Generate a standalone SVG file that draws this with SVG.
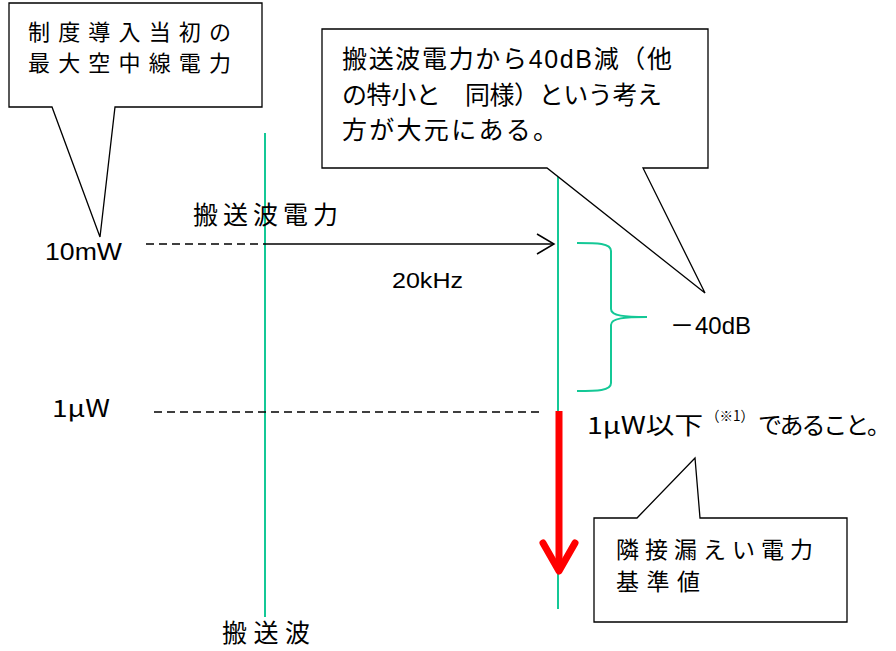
<svg xmlns="http://www.w3.org/2000/svg" width="896" height="651" viewBox="0 0 896 651">
<style>
text{font-family:"Liberation Sans","Noto Sans CJK JP",sans-serif;fill:#000}
.jp{font-family:"Noto Sans CJK JP",sans-serif;font-size:25px}
.la{font-size:23px}
.callout{fill:#fff;stroke:#000;stroke-width:1.3}
.green{fill:none;stroke:#14C896;stroke-width:2}
.dash{stroke:#000;stroke-width:1.5;stroke-dasharray:8 5;fill:none}
</style>
<rect width="896" height="651" fill="#fff"/>
<g id="axes">
<line class="green" x1="265" y1="133" x2="265" y2="617"/>
<line class="green" x1="558" y1="172" x2="558" y2="609"/>
<path class="green" d="M577,243 C597,243 611,243 611,251 V309 C611,316 625,317 647,317 C625,317 611,318 611,325 V383 C611,391 597,391 577,391"/>
</g>
<g id="connectors">
<line class="dash" x1="146" y1="244" x2="265" y2="244"/>
<line x1="265" y1="244" x2="554" y2="244" stroke="#000" stroke-width="1.5"/>
<path d="M537,234 L554,244 L537,254" fill="none" stroke="#000" stroke-width="1.5"/>
<line class="dash" x1="154" y1="412" x2="540" y2="412"/>
<line x1="559" y1="411" x2="559" y2="568" stroke="#FF0000" stroke-width="7"/>
<path d="M543,543 L559,571 L575,543" fill="none" stroke="#FF0000" stroke-width="7" stroke-linecap="round" stroke-linejoin="round"/>
</g>
<g id="callout1">
<path class="callout" d="M9,3 H262 V107 H115 L100,237 L52,107 H9 Z"/>
<text class="jp" x="28" y="40" style="font-size:22px" textLength="203" lengthAdjust="spacing">制度導入当初の</text>
<text class="jp" x="28" y="71" style="font-size:22px" textLength="203" lengthAdjust="spacing">最大空中線電力</text>
</g>
<g id="callout2">
<path class="callout" d="M322,29 H708 V168 H643 L705,293 L547,168 H322 Z"/>
<text class="jp" x="342" y="68" textLength="330" lengthAdjust="spacing">搬送波電力から<tspan font-family="Liberation Sans">40dB</tspan>減（他</text>
<text class="jp" x="342" y="104" textLength="320" lengthAdjust="spacing">の特小と　同様）という考え</text>
<text class="jp" x="342" y="139" textLength="216" lengthAdjust="spacing">方が大元にある。</text>
</g>
<g id="callout3">
<path class="callout" d="M594,518 H637 L695,458 L700,518 H847 V622 H594 Z"/>
<text class="jp" x="616" y="558" style="font-size:23px" textLength="197" lengthAdjust="spacing">隣接漏えい電力</text>
<text class="jp" x="616" y="590" style="font-size:23px" textLength="84" lengthAdjust="spacing">基準値</text>
</g>
<g id="labels">
<text class="jp" x="193" y="224" textLength="145" lengthAdjust="spacing">搬送波電力</text>
<text class="la" x="45" y="260" style="font-size:24px" textLength="77" lengthAdjust="spacingAndGlyphs">10mW</text>
<text class="la" x="392" y="288" style="font-size:22px" textLength="71" lengthAdjust="spacingAndGlyphs">20kHz</text>
<text class="jp" x="52" y="417" style="font-size:24px" textLength="58" lengthAdjust="spacingAndGlyphs">1μW</text>
<text class="la" x="670" y="334" style="font-size:24px"><tspan font-family="Noto Sans CJK JP">－</tspan><tspan x="695">40dB</tspan></text>
<text class="jp" x="222" y="642" textLength="88" lengthAdjust="spacing">搬送波</text>
<text class="jp" x="587" y="434" style="font-size:24px" textLength="116" lengthAdjust="spacingAndGlyphs">1μW以下</text>
<text class="jp" x="706" y="421" style="font-size:14px" textLength="48" lengthAdjust="spacingAndGlyphs">（※1）</text>
<text class="jp" x="758" y="434" style="font-size:24px" textLength="133" lengthAdjust="spacing">であること。</text>
</g>
</svg>
